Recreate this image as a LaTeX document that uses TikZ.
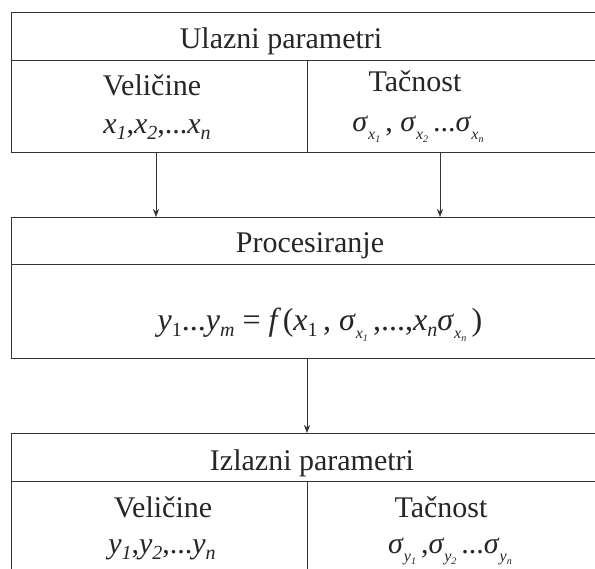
\documentclass[tikz,border=0pt]{standalone}
\usepackage{fontspec}
\setmainfont{Liberation Serif}
\usetikzlibrary{arrows.meta}
\newcommand{\vsub}[2]{{\itshape #1}\raisebox{-6pt}{\fontsize{20}{20}\selectfont\itshape #2}}
\newcommand{\vsubu}[2]{{\itshape #1}\raisebox{-6pt}{\fontsize{20}{20}\selectfont #2}}
\newcommand{\sgsub}[2]{{\itshape σ}\kern1pt\raisebox{-8pt}{\fontsize{16}{16}\selectfont\itshape #1\raisebox{-3pt}{\fontsize{10}{10}\selectfont #2}}}
\tikzset{
  box/.style={draw=black!80, line width=0.9pt, inner sep=0pt, anchor=north west},
  lbl/.style={font=\fontsize{30}{34}\selectfont, anchor=base, inner sep=0pt, text=black!85},
  arr/.style={-{Stealth[length=8pt,width=6pt]}, line width=0.6pt, draw=black!80}
}
\begin{document}
\begin{tikzpicture}[x=1pt,y=-1pt]
\useasboundingbox (0,0) rectangle (595,569);
\clip (0,0) rectangle (595,569);
\fill[white] (0,0) rectangle (595,569);
% input box
\node[box, minimum width=600pt, minimum height=48pt] (inh) at (11,12) {};
\node[box, minimum width=296pt, minimum height=92pt] (inl) at (11,60) {};
\node[box, minimum width=300pt, minimum height=92pt] (inr) at (307,60) {};
% processing box
\node[box, minimum width=600pt, minimum height=47pt] (prh) at (11,217) {};
\node[box, minimum width=600pt, minimum height=94pt] (prl) at (11,264) {};
% output box
\node[box, minimum width=600pt, minimum height=48pt] (outh) at (11,433) {};
\node[box, minimum width=296pt, minimum height=130pt] (outl) at (11,481) {};
\node[box, minimum width=300pt, minimum height=130pt] (outr) at (307,481) {};
% connectors
\coordinate (a1) at (156,0);
\coordinate (a2) at (440,0);
\draw[arr] (inl.south -| a1) -- (prh.north -| a1);
\draw[arr] (inr.south -| a2) -- (prh.north -| a2);
\draw[arr] (prl.south -| inr.west) -- (outh.north -| inr.west);
% texts
\node[lbl] (t1) at (281,49) {Ulazni parametri};
\node[lbl] (t2) at (152,96) {Veličine};
\node[lbl] (t3) at (415,92) {Tačnost};
\node[lbl] (t4) at (157,134) {\vsub{x}{1},\vsub{x}{2},...\vsub{x}{n}};
\node[lbl] (t5) at (418,132) {\sgsub{x}{1}\,, \sgsub{x}{2}\,...\sgsub{x}{n}};
\node[lbl] (t6) at (310,253) {Procesiranje};
\node[lbl, font=\fontsize{32}{36}\selectfont] (t7) at (320,331) {\vsubu{y}{1}...\vsub{y}{m} = {\itshape f}\,(\vsubu{x}{1}\,, \sgsub{x}{1}\,,...,\vsub{x}{n}\sgsub{x}{n}\,)};
\node[lbl] (t8) at (312,471) {Izlazni parametri};
\node[lbl] (t9) at (163,518) {Veličine};
\node[lbl] (t10) at (441,518) {Tačnost};
\node[lbl] (t11) at (162,553) {\vsub{y}{1},\vsub{y}{2},...\vsub{y}{n}};
\node[lbl] (t12) at (450,553) {\sgsub{y}{1}\,,\sgsub{y}{2}\,...\sgsub{y}{n}};
\end{tikzpicture}
\end{document}
